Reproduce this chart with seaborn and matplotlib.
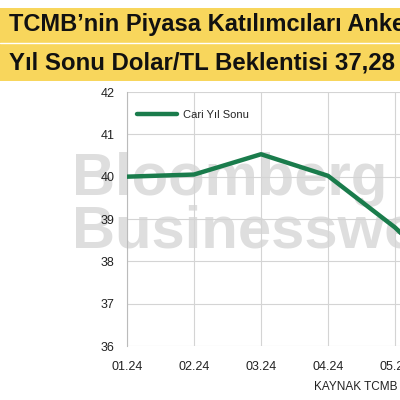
import numpy as np
import pandas as pd
import matplotlib.pyplot as plt
import seaborn as sns

months = ["01.24", "02.24", "03.24", "04.24", "05.24", "06.24"]
cari_yil_sonu = [40.0, 40.05, 40.53, 40.02, 38.8, 37.28]
y_ticks = [36, 37, 38, 39, 40, 41, 42]

sns.set_style("whitegrid", {"grid.color": "#d4d4d4", "axes.edgecolor": "#bbbbbb"})
plt.rcParams['font.family'] = ['Liberation Sans', 'DejaVu Sans']

df = pd.DataFrame({"ay": np.arange(len(months)), "deger": cari_yil_sonu})

fig = plt.figure(figsize=(4, 4), dpi=100)
fig.patch.set_facecolor("white")

# yellow banner with the two title lines
banner = fig.add_axes([0, 1 - 81 / 400, 1, 73 / 400])
banner.set_facecolor("#f8d65c")
banner.set_xticks([])
banner.set_yticks([])
for s in banner.spines.values():
    s.set_visible(False)
banner.axhline(0.52, color="white", lw=1)
banner.text(9 / 400, 0.77, "TCMB\u2019nin Piyasa Katılımcıları Anketi",
            transform=banner.transAxes, fontsize=17, fontweight="bold",
            va="center", ha="left", color="#111111")
banner.text(9 / 400, 0.25, "Yıl Sonu Dolar/TL Beklentisi 37,28",
            transform=banner.transAxes, fontsize=17.3, fontweight="bold",
            va="center", ha="left", color="#111111")

ax = fig.add_axes([127 / 400, 54 / 400, 335 / 400, 254 / 400])
ax.set_facecolor("white")

# watermark
ax.text(-0.163, 0.594, "Bloomberg", transform=ax.transAxes, fontsize=43,
        fontweight="bold", color="#dedede", va="baseline", ha="left", zorder=0)
ax.text(-0.163, 0.386, "Businessweek", transform=ax.transAxes, fontsize=43,
        fontweight="bold", color="#dedede", va="baseline", ha="left", zorder=0)

sns.lineplot(data=df, x="ay", y="deger", ax=ax, color="#1a7c4c", lw=3.2,
             label="Cari Yıl Sonu", zorder=3)

ax.set_xlim(0, len(months) - 1)
ax.set_ylim(36, 42)
ax.set_xticks(range(len(months)))
ax.set_xticklabels(months)
ax.set_yticks(y_ticks)
ax.set_xlabel("")
ax.set_ylabel("")
ax.tick_params(axis="x", length=3, color="#bbbbbb", pad=8, labelsize=9, labelcolor="#222222")
ax.tick_params(axis="y", length=0, pad=9, labelsize=9, labelcolor="#222222")
for side in ["top", "right", "bottom"]:
    ax.spines[side].set_visible(False)
ax.spines["left"].set_color("#bbbbbb")
ax.grid(True, color="#d4d4d4", lw=0.8)

leg = ax.legend(loc="upper left", bbox_to_anchor=(0.0, 0.97), frameon=False,
                fontsize=8, handlelength=3.6, handletextpad=0.5)

fig.text(397 / 400, 1 - 387 / 400, "KAYNAK TCMB", ha="right", va="center",
         fontsize=8.5, color="#222222")

fig.savefig("out.png", dpi=100)
